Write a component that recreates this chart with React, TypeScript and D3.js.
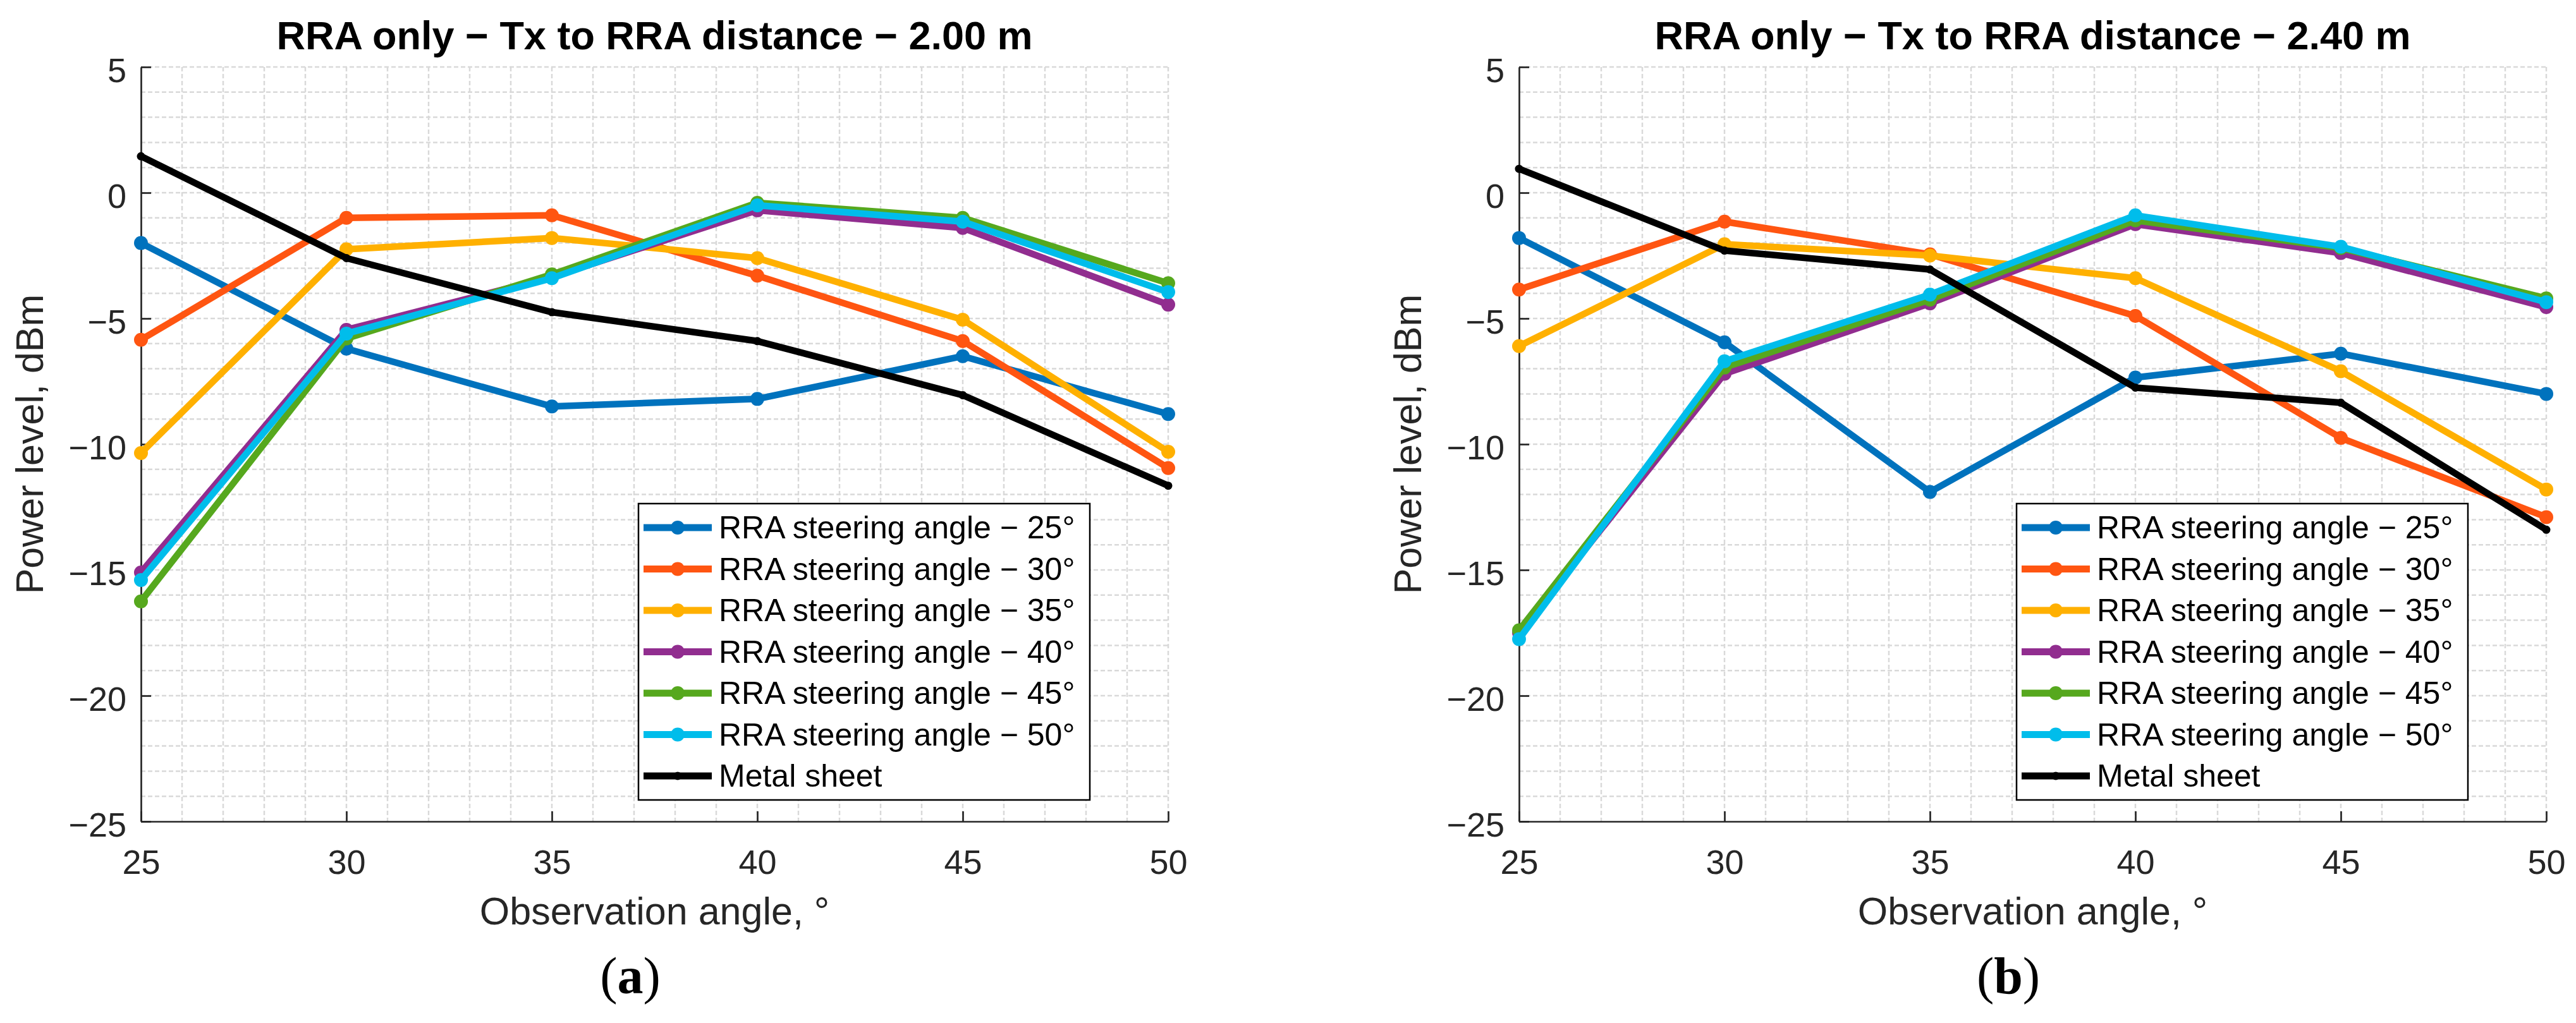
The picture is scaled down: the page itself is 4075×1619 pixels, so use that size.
/**
 * Steering-angle comparison — two MATLAB-style line panels side by side.
 * Power level at the receiver vs observation angle, one line per RRA steering
 * angle plus the metal-sheet reference.
 */

import { useEffect, useRef } from 'react';
import * as d3 from 'd3';

// ─── Data ───────────────────────────────────────────────────

const ANGLES = [25, 30, 35, 40, 45, 50];
const X_TICKS = [25, 30, 35, 40, 45, 50];
const Y_TICKS = [-25, -20, -15, -10, -5, 0, 5];

const SERIES_LABELS = [
  'RRA steering angle − 25°',
  'RRA steering angle − 30°',
  'RRA steering angle − 35°',
  'RRA steering angle − 40°',
  'RRA steering angle − 45°',
  'RRA steering angle − 50°',
  'Metal sheet',
];

// panel (a): Tx to RRA distance 2.00 m
const A_STEER_25 = [-2.0, -6.2, -8.5, -8.2, -6.5, -8.8];
const A_STEER_30 = [-5.85, -1.0, -0.9, -3.3, -5.9, -10.95];
const A_STEER_35 = [-10.35, -2.25, -1.8, -2.6, -5.05, -10.3];
const A_STEER_40 = [-15.1, -5.45, -3.35, -0.7, -1.4, -4.45];
const A_STEER_45 = [-16.25, -5.8, -3.25, -0.4, -1.0, -3.6];
const A_STEER_50 = [-15.4, -5.6, -3.4, -0.5, -1.15, -3.95];
const A_METAL = [1.45, -2.6, -4.75, -5.9, -8.05, -11.65];

// panel (b): Tx to RRA distance 2.40 m
const B_STEER_25 = [-1.8, -5.95, -11.9, -7.35, -6.4, -8.0];
const B_STEER_30 = [-3.85, -1.15, -2.45, -4.9, -9.75, -12.9];
const B_STEER_35 = [-6.1, -2.05, -2.5, -3.4, -7.1, -11.8];
const B_STEER_40 = [-17.5, -7.2, -4.4, -1.25, -2.4, -4.55];
const B_STEER_45 = [-17.4, -6.95, -4.25, -1.1, -2.2, -4.2];
const B_STEER_50 = [-17.75, -6.7, -4.05, -0.9, -2.15, -4.35];
const B_METAL = [0.95, -2.3, -3.05, -7.75, -8.35, -13.4];

// ─── Constants ──────────────────────────────────────────────

const W = 4075;
const H = 1619;
const FONT = "'Liberation Sans', Arial, Helvetica, sans-serif";
const SERIF = "'Liberation Serif', 'Times New Roman', serif";

const COLORS = ['#0072BD', '#FF5511', '#FFB000', '#912D8F', '#56A81E', '#00BDEB', '#000000'];

const PLOT = { top: 106, bottom: 1300, width: 1625 };
const AXIS_COLOR = '#262626';
const GRID_COLOR = '#d9d9d9';

interface PanelSpec {
  left: number;
  title: string;
  tag: string;
  series: number[][];
}

const PANELS: PanelSpec[] = [
  {
    left: 223,
    title: 'RRA only − Tx to RRA distance − 2.00 m',
    tag: 'a',
    series: [A_STEER_25, A_STEER_30, A_STEER_35, A_STEER_40, A_STEER_45, A_STEER_50, A_METAL],
  },
  {
    left: 2403,
    title: 'RRA only − Tx to RRA distance − 2.40 m',
    tag: 'b',
    series: [B_STEER_25, B_STEER_30, B_STEER_35, B_STEER_40, B_STEER_45, B_STEER_50, B_METAL],
  },
];

// ─── Drawing ────────────────────────────────────────────────

function drawPanel(svg: d3.Selection<SVGSVGElement, unknown, null, undefined>, p: PanelSpec) {
  const g = svg.append('g').attr('transform', `translate(${p.left},0)`);

  const x = d3.scaleLinear().domain([25, 50]).range([0, PLOT.width]);
  const y = d3.scaleLinear().domain([-25, 5]).range([PLOT.bottom, PLOT.top]);
  const cx = PLOT.width / 2;

  // Grid (major + minor, same dashed style)
  g.append('g').selectAll('line')
    .data(d3.range(26, 51))
    .join('line')
    .attr('x1', (d) => x(d)).attr('x2', (d) => x(d))
    .attr('y1', PLOT.top).attr('y2', PLOT.bottom)
    .attr('stroke', GRID_COLOR)
    .attr('stroke-width', 2.5)
    .attr('stroke-dasharray', '7 4');

  g.append('g').selectAll('line')
    .data(d3.range(-24, 6))
    .join('line')
    .attr('x1', 0).attr('x2', PLOT.width)
    .attr('y1', (d) => y(d)).attr('y2', (d) => y(d))
    .attr('stroke', GRID_COLOR)
    .attr('stroke-width', 2.5)
    .attr('stroke-dasharray', '7 4');

  // Axes
  const styleAxis = (sel: d3.Selection<SVGGElement, unknown, null, undefined>) => {
    sel.attr('font-family', FONT).attr('font-size', 54);
    sel.selectAll('line,path').attr('stroke', AXIS_COLOR).attr('stroke-width', 2.7);
    sel.selectAll('text').attr('fill', AXIS_COLOR);
  };

  g.append('g')
    .attr('transform', `translate(0,${PLOT.bottom})`)
    .call(d3.axisBottom(x).tickValues(X_TICKS).tickSize(-16).tickSizeOuter(0).tickPadding(45))
    .call(styleAxis);

  g.append('g')
    .call(d3.axisLeft(y).tickValues(Y_TICKS).tickSize(-16).tickSizeOuter(0).tickPadding(23))
    .call(styleAxis)
    .call((sel) => sel.selectAll('text').attr('dy', '0.44em'));

  // Lines + markers
  const lineGen = d3.line<number>()
    .x((_, i) => x(ANGLES[i]))
    .y((d) => y(d));

  p.series.forEach((vals, si) => {
    const color = COLORS[si];
    const isMetal = si === p.series.length - 1;
    g.append('path').datum(vals)
      .attr('fill', 'none')
      .attr('stroke', color)
      .attr('stroke-width', 10.5)
      .attr('stroke-linejoin', 'round')
      .attr('d', lineGen);

    g.append('g').selectAll('circle')
      .data(vals)
      .join('circle')
      .attr('cx', (_, i) => x(ANGLES[i]))
      .attr('cy', (d) => y(d))
      .attr('r', isMetal ? 6.5 : 11)
      .attr('fill', color);
  });

  // Title
  g.append('text')
    .attr('x', cx).attr('y', 78)
    .attr('text-anchor', 'middle')
    .attr('font-family', FONT).attr('font-weight', 'bold').attr('font-size', 63)
    .attr('fill', '#000')
    .text(p.title);

  // Axis labels
  g.append('text')
    .attr('x', cx).attr('y', 1463)
    .attr('text-anchor', 'middle')
    .attr('font-family', FONT).attr('font-size', 61)
    .attr('fill', AXIS_COLOR)
    .text('Observation angle, °');

  g.append('text')
    .attr('transform', `translate(-155,${(PLOT.top + PLOT.bottom) / 2}) rotate(-90)`)
    .attr('text-anchor', 'middle')
    .attr('font-family', FONT).attr('font-size', 61)
    .attr('fill', AXIS_COLOR)
    .text('Power level, dBm');

  // Legend
  const lg = g.append('g').attr('transform', `translate(787,797)`);
  lg.append('rect')
    .attr('width', 714).attr('height', 469)
    .attr('fill', '#fff')
    .attr('stroke', '#000')
    .attr('stroke-width', 2.5);

  SERIES_LABELS.forEach((label, i) => {
    const ly = 38 + i * 65.5;
    const isMetal = i === SERIES_LABELS.length - 1;
    lg.append('line')
      .attr('x1', 8).attr('x2', 116)
      .attr('y1', ly).attr('y2', ly)
      .attr('stroke', COLORS[i])
      .attr('stroke-width', 11);
    lg.append('circle')
      .attr('cx', 62).attr('cy', ly)
      .attr('r', isMetal ? 6.5 : 11)
      .attr('fill', COLORS[i]);
    lg.append('text')
      .attr('x', 127).attr('y', ly + 17)
      .attr('font-family', FONT).attr('font-size', 50)
      .attr('fill', '#000')
      .text(label);
  });

  // Sub-figure tag
  const tag = g.append('text')
    .attr('x', 774).attr('y', 1572)
    .attr('text-anchor', 'middle')
    .attr('font-family', SERIF).attr('font-size', 82)
    .attr('fill', '#000');
  tag.append('tspan').text('(');
  tag.append('tspan').attr('font-weight', 'bold').text(p.tag);
  tag.append('tspan').text(')');
}

// ─── Component ──────────────────────────────────────────────

export default function App() {
  const svgRef = useRef<SVGSVGElement>(null);

  useEffect(() => {
    if (!svgRef.current) return;
    const svg = d3.select(svgRef.current);
    svg.selectAll('*').remove();
    PANELS.forEach((p) => drawPanel(svg, p));
  }, []);

  return (
    <svg
      ref={svgRef}
      width={W}
      height={H}
      viewBox={`0 0 ${W} ${H}`}
      style={{ position: 'absolute', left: 0, top: 0, background: '#fff' }}
    />
  );
}
